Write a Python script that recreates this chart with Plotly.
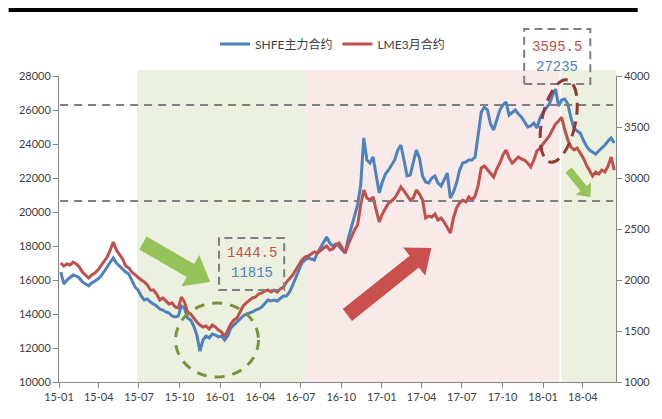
import math
import pandas as pd
import plotly.graph_objects as go

# ---------------------------------------------------------------------------
# Data: weekly zinc prices, SHFE main contract (CNY/t, left axis) and
# LME 3-month (USD/t, right axis)
# ---------------------------------------------------------------------------
weeks = pd.date_range("2015-01-05", periods=180, freq="7D")

shfe = [
    16470, 15765, 16000, 16175, 16295, 16235, 16120, 15885, 15765, 15650,
    15825, 15940, 16060, 16235, 16470, 16765, 17060, 17295, 17000, 16825,
    16590, 16470, 16355, 16000, 15590, 15410, 15060, 14825, 14885, 14705,
    14590, 14470, 14295, 14235, 14120, 14060, 13885, 13825, 13885, 14470,
    14355, 13765, 13650, 13295, 12765, 11815, 12470, 12705, 12590, 12825,
    12765, 12650, 12705, 12470, 12705, 13175, 13355, 13530, 13765, 13885,
    14000, 14060, 14120, 14235, 14295, 14410, 14645, 14825, 14765, 14825,
    14765, 14940, 15060, 15060, 15295, 15705, 16120, 16590, 17000, 17175,
    17295, 17235, 17175, 17590, 17885, 18175, 18530, 18175, 18000, 18120,
    18000, 17765, 17590, 18470, 19175, 19825, 20410, 21590, 24355, 23060,
    22885, 23235, 22060, 21120, 21765, 22235, 22470, 22765, 23060, 23645,
    23940, 23060, 22120, 22175, 22940, 23645, 23175, 22120, 21765, 21705,
    22000, 22120, 21705, 21530, 21885, 22295, 20825, 21175, 21705, 22470,
    22885, 22940, 23060, 23060, 23235, 24645, 25880, 26175, 26000, 25175,
    24825, 25410, 26000, 26295, 26470, 25705, 25880, 26000, 25765, 25590,
    25295, 25000, 25060, 25235, 24940, 25530, 25880, 26120, 26355, 26825,
    27235, 26235, 26590, 26645, 26355, 25530, 24940, 24765, 24645, 24235,
    23885, 23645, 23530, 23410, 23590, 23765, 23940, 24175, 24355, 24060,
]

lme = [
    2167, 2137, 2157, 2147, 2176, 2157, 2127, 2078, 2049, 2020,
    2049, 2069, 2098, 2137, 2176, 2225, 2294, 2373, 2294, 2245,
    2206, 2137, 2118, 2078, 2049, 2020, 2000, 1980, 1951, 1902,
    1902, 1863, 1804, 1824, 1794, 1765, 1775, 1735, 1725, 1833,
    1784, 1686, 1667, 1627, 1588, 1559, 1539, 1549, 1520, 1559,
    1539, 1510, 1490, 1444.5, 1510, 1569, 1608, 1627, 1686, 1745,
    1775, 1804, 1824, 1833, 1863, 1873, 1892, 1902, 1882, 1902,
    1882, 1912, 1931, 1980, 2010, 2049, 2098, 2147, 2196, 2225,
    2235, 2255, 2275, 2265, 2294, 2314, 2333, 2294, 2304, 2343,
    2363, 2314, 2265, 2353, 2431, 2490, 2539, 2735, 2882, 2804,
    2784, 2814, 2686, 2569, 2647, 2706, 2755, 2775, 2804, 2853,
    2912, 2873, 2833, 2784, 2804, 2882, 2843, 2784, 2608, 2627,
    2618, 2647, 2588, 2608, 2569, 2510, 2461, 2608, 2706, 2755,
    2784, 2765, 2814, 2784, 2824, 2931, 3098, 3118, 3078, 3039,
    3010, 3088, 3147, 3225, 3275, 3196, 3147, 3176, 3206, 3186,
    3176, 3147, 3108, 3176, 3265, 3294, 3333, 3373, 3412, 3471,
    3529, 3559, 3595.5, 3471, 3373, 3304, 3275, 3294, 3245, 3196,
    3127, 3078, 3020, 3059, 3039, 3078, 3059, 3118, 3206, 3078,
]

series_names = ["SHFE主力合约", "LME3月合约"]

# Low / high points called out in the boxes
lme_low, shfe_low = 1444.5, 11815
lme_high, shfe_high = 3595.5, 27235

# Background phases: decline, rally, pull-back
phase_bounds = ["2015-06-27", "2016-07-14", "2018-02-07", "2018-02-11", "2018-06-15"]
# Reference levels drawn as dashed lines (left axis)
ref_levels = [26300, 20650]

BLUE = "#4F81BD"
RED = "#C0504D"
GREEN_BG = "#EBF1DE"
PINK_BG = "#F7EAE9"
AXIS = "#868686"
TXT = "#404040"
FONT = "Lato, 'Noto Sans CJK SC', sans-serif"

W, H = 662, 419
L, R, T, B = 59, 623, 76, 382


def paper(x, y):
    """Pixel position -> paper coordinates."""
    return (x - L) / (R - L), (B - y) / (B - T)


def arrow_path(x0, y0, x1, y1, shaft, head_w, head_len):
    dx, dy = x1 - x0, y1 - y0
    n = math.hypot(dx, dy)
    ux, uy = dx / n, dy / n
    nx, ny = -uy, ux
    bx, by = x1 - ux * head_len, y1 - uy * head_len
    pts = [
        (x0 + nx * shaft / 2, y0 + ny * shaft / 2),
        (bx + nx * shaft / 2, by + ny * shaft / 2),
        (bx + nx * head_w / 2, by + ny * head_w / 2),
        (x1, y1),
        (bx - nx * head_w / 2, by - ny * head_w / 2),
        (bx - nx * shaft / 2, by - ny * shaft / 2),
        (x0 - nx * shaft / 2, y0 - ny * shaft / 2),
    ]
    pp = [paper(*p) for p in pts]
    return "M " + " L ".join(f"{a:.5f},{b:.5f}" for a, b in pp) + " Z"


def ellipse_path(cx, cy, rx, ry, angle_deg):
    k = 0.5523
    a = math.radians(angle_deg)
    ux, uy = math.cos(a), math.sin(a)
    vx, vy = -math.sin(a), math.cos(a)

    def P(s, t):
        x = cx + s * rx * ux + t * ry * vx
        y = cy + s * rx * uy + t * ry * vy
        px_, py_ = paper(x, y)
        return f"{px_:.5f},{py_:.5f}"

    return (
        f"M {P(1, 0)} "
        f"C {P(1, k)} {P(k, 1)} {P(0, 1)} "
        f"C {P(-k, 1)} {P(-1, k)} {P(-1, 0)} "
        f"C {P(-1, -k)} {P(-k, -1)} {P(0, -1)} "
        f"C {P(k, -1)} {P(1, -k)} {P(1, 0)} Z"
    )


fig = go.Figure()
fig.add_trace(go.Scatter(x=weeks, y=shfe, name=series_names[0], mode="lines",
                         line=dict(color=BLUE, width=3), yaxis="y"))
fig.add_trace(go.Scatter(x=weeks, y=lme, name=series_names[1], mode="lines",
                         line=dict(color=RED, width=3), yaxis="y2"))

shapes = []
# phase shading
bg_fills = [GREEN_BG, PINK_BG, None, GREEN_BG]
for i, fill in enumerate(bg_fills):
    if fill is None:
        continue
    shapes.append(dict(type="rect", xref="x", yref="paper",
                       x0=phase_bounds[i], x1=phase_bounds[i + 1],
                       y0=0, y1=1.02, fillcolor=fill, line_width=0, layer="below"))

# dashed reference levels
for lv in ref_levels:
    shapes.append(dict(type="line", xref="paper", yref="y", x0=0.002, x1=0.995,
                       y0=lv, y1=lv, line=dict(color="#7F7F7F", width=2, dash="8px,6px")))

# value boxes
for (x0, y0, x1, y1) in [(221, 238, 287, 290), (530, 29, 597, 84)]:
    a0, b0 = paper(x0, y1)
    a1, b1 = paper(x1, y0)
    shapes.append(dict(type="rect", xref="paper", yref="paper", x0=a0, x1=a1, y0=b0, y1=b1,
                       line=dict(color="#7F7F7F", width=2, dash="8px,5px"), fillcolor="rgba(0,0,0,0)"))

# circled low and high
shapes.append(dict(type="path", xref="paper", yref="paper",
                   path=ellipse_path(219, 340, 42, 37, 0),
                   line=dict(color="#77933C", width=3, dash="10px,8px")))
shapes.append(dict(type="path", xref="paper", yref="paper",
                   path=ellipse_path(565, 121, 17, 42, 12),
                   line=dict(color="#953735", width=3, dash="12px,7px")))

# trend arrows
shapes.append(dict(type="path", xref="paper", yref="paper",
                   path=arrow_path(144, 243, 212, 282, 15, 36, 23),
                   fillcolor="#96C25A", line_width=0))
shapes.append(dict(type="path", xref="paper", yref="paper",
                   path=arrow_path(351, 315, 436, 248, 15, 36, 22),
                   fillcolor="#C9504C", line_width=0))
shapes.append(dict(type="path", xref="paper", yref="paper",
                   path=arrow_path(575, 170, 597, 197, 8, 20, 11),
                   fillcolor="#96C25A", line_width=0))

# heading rule
bx0, by0 = paper(8, 10)
bx1, _ = paper(645, 10)
shapes.append(dict(type="line", xref="paper", yref="paper", x0=bx0, x1=bx1, y0=by0, y1=by0,
                   line=dict(color="#000000", width=4)))

annotations = []
box_font = "Liberation Mono, monospace"
for (cx, cy, txt, col) in [
    (254, 253, f"{lme_low}", RED),
    (254, 273, f"{shfe_low}", BLUE),
    (563, 47, f"{lme_high}", RED),
    (563, 67, f"{shfe_high}", BLUE),
]:
    ax_, ay_ = paper(cx, cy)
    annotations.append(dict(xref="paper", yref="paper", x=ax_, y=ay_, text=txt,
                            showarrow=False, xanchor="center", yanchor="middle",
                            font=dict(family=box_font, size=14, color=col)))

lx, ly = paper(336, 44)

fig.update_layout(
    width=W, height=H,
    margin=dict(l=L, r=W - R, t=T, b=H - B, pad=0),
    paper_bgcolor="white", plot_bgcolor="white",
    font=dict(family=FONT, size=11, color=TXT),
    showlegend=True,
    legend=dict(orientation="h", x=lx, xanchor="center", y=ly, yanchor="middle",
                font=dict(size=12, color=TXT), bgcolor="rgba(0,0,0,0)",
                itemwidth=30, tracegroupgap=0),
    xaxis=dict(type="date", range=["2015-01-01", "2018-06-15"], tick0="2015-01-01",
               dtick="M3", tickformat="%y-%m", ticks="outside", ticklen=5,
               tickcolor=AXIS, showline=True, linecolor=AXIS, linewidth=1,
               showgrid=False, zeroline=False, tickfont=dict(size=11, color=TXT)),
    yaxis=dict(range=[10000, 28000], dtick=2000, tickformat="d", ticks="outside",
               ticklen=5, tickcolor=AXIS, showline=True, linecolor=AXIS, linewidth=1,
               showgrid=False, zeroline=False, tickfont=dict(size=11, color=TXT)),
    yaxis2=dict(range=[1000, 4000], dtick=500, tickformat="d", overlaying="y",
                side="right", ticks="outside", ticklen=5, tickcolor=AXIS,
                showline=True, linecolor=AXIS, linewidth=1, showgrid=False,
                zeroline=False, tickfont=dict(size=11, color=TXT)),
    shapes=shapes,
    annotations=annotations,
)

fig.write_html("out.html")
